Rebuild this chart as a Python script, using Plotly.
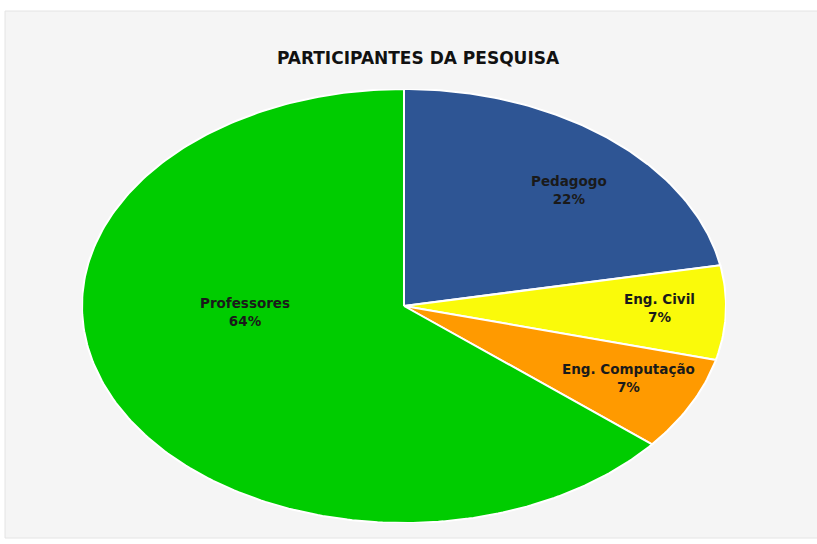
import numpy as np
import plotly.graph_objects as go

# ---- data ----
categories = ["Pedagogo", "Eng. Civil", "Eng. Computação", "Professores"]
percents = [22, 7, 7, 64]
pct_labels = ["22%", "7%", "7%", "64%"]
title_text = "PARTICIPANTES DA PESQUISA"

# ---- styles ----
colors = ["#2E5594", "#FAFA0A", "#FF9A00", "#00CC00"]
# label anchor positions in normalized pie units (x right, y up; radius 1)
label_pos = [(0.512, 0.535), (0.795, -0.01), (0.696, -0.33), (-0.494, -0.028)]

W, H = 817, 544
ml, mr, mt, mb = 82, 91, 89, 21

fig = go.Figure()

total = float(sum(percents))
start = 0.0
for cat, val, col in zip(categories, percents, colors):
    a0 = start / total * 2 * np.pi
    a1 = (start + val) / total * 2 * np.pi
    n = max(4, int(np.ceil((a1 - a0) / (2 * np.pi) * 400)))
    th = np.linspace(a0, a1, n)
    xs = np.concatenate([[0.0], np.sin(th), [0.0]])
    ys = np.concatenate([[0.0], np.cos(th), [0.0]])
    fig.add_trace(go.Scatter(
        x=xs, y=ys, mode="lines", fill="toself", fillcolor=col,
        line=dict(color="white", width=2), hoverinfo="skip",
        name=cat, showlegend=False,
    ))
    start += val

for cat, pl, (lx, ly) in zip(categories, pct_labels, label_pos):
    fig.add_annotation(
        x=lx, y=ly, xref="x", yref="y", text=f"<b>{cat}<br>{pl}</b>",
        showarrow=False, font=dict(family="DejaVu Sans", size=13.5, color="#1a1a1a"),
        align="center",
    )

pw = W - ml - mr
ph = H - mt - mb
fig.add_shape(
    type="rect", xref="paper", yref="paper", layer="below",
    x0=(5 - ml) / pw, x1=(W + 10 - ml) / pw,
    y0=(H - mb - 538) / ph, y1=(H - mb - 11) / ph,
    fillcolor="#F5F5F5", line=dict(color="#E4E4E4", width=1),
)

fig.update_layout(
    width=W, height=H,
    margin=dict(l=ml, r=mr, t=mt, b=mb, pad=0),
    paper_bgcolor="white", plot_bgcolor="rgba(0,0,0,0)",
    title=dict(text=f"<b>{title_text}</b>", x=418 / W, xanchor="center",
               y=1 - 58 / H, yanchor="middle",
               font=dict(family="DejaVu Sans", size=17, color="#111111")),
    xaxis=dict(range=[-1, 1], visible=False, fixedrange=True),
    yaxis=dict(range=[-1, 1], visible=False, fixedrange=True),
    showlegend=False,
)

fig.write_html("out.html", config={"displayModeBar": False},
               post_script="document.body.style.margin='0px';")
